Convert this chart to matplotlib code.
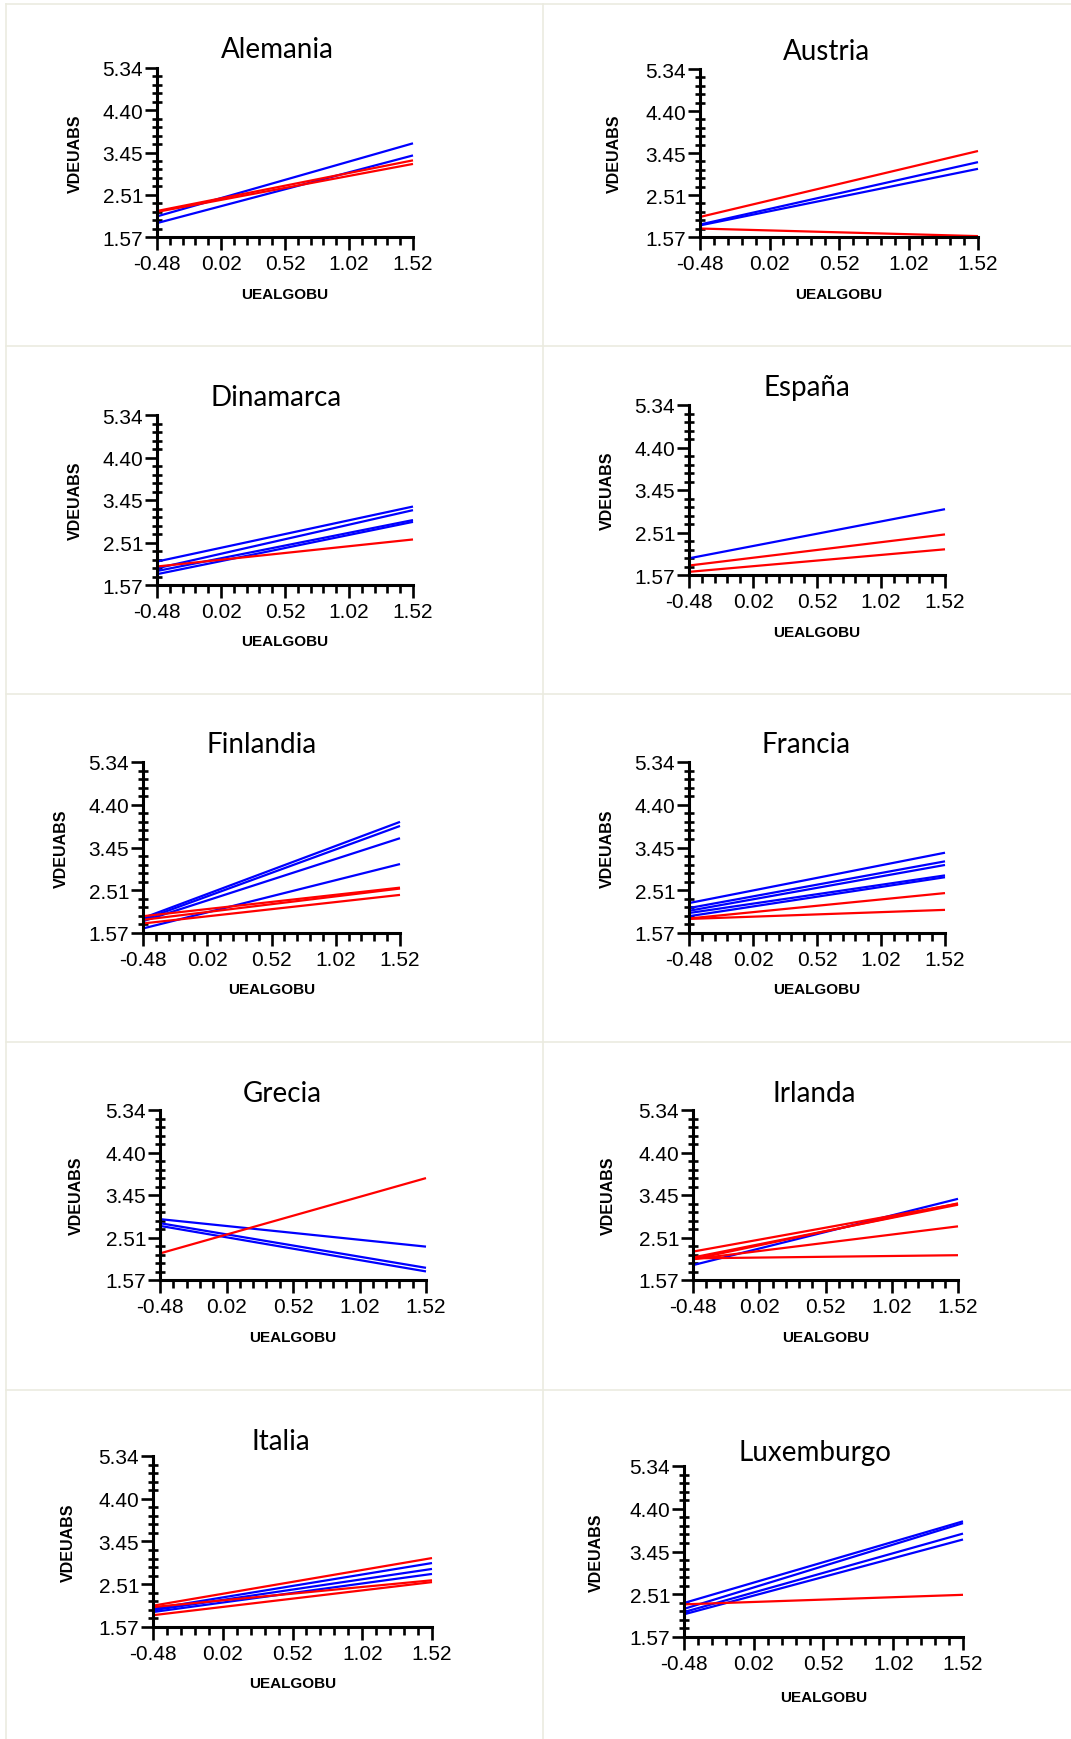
import matplotlib
matplotlib.use("Agg")
import matplotlib.pyplot as plt
from matplotlib.ticker import FixedLocator, AutoMinorLocator
from matplotlib.lines import Line2D
import numpy as np

# ---------------- data ----------------
countries = ["Alemania", "Austria", "Dinamarca", "España", "Finlandia",
             "Francia", "Grecia", "Irlanda", "Italia", "Luxemburgo"]

x_ends = [-0.48, 1.52]
xtick_vals = [-0.48, 0.02, 0.52, 1.02, 1.52]
xtick_labels = ["-0.48", "0.02", "0.52", "1.02", "1.52"]
ytick_labels = ["1.57", "2.51", "3.45", "4.40", "5.34"]
y_min, y_max = 1.57, 5.34

# each line: (value at x=-0.48, value at x=1.52)
alemania_blue = [(2.03, 3.66), (1.88, 3.39)]
alemania_red = [(2.15, 3.28), (2.13, 3.20)]
austria_blue = [(1.85, 3.25), (1.83, 3.10)]
austria_red = [(2.02, 3.50), (1.76, 1.59)]
dinamarca_blue = [(2.09, 3.31), (1.94, 3.23), (1.88, 3.01), (1.81, 2.97)]
dinamarca_red = [(1.98, 2.58)]
espana_blue = [(1.94, 3.03)]
espana_red = [(1.78, 2.47), (1.64, 2.14)]
finlandia_blue = [(1.90, 4.02), (1.86, 3.93), (1.83, 3.66), (1.67, 3.09)]
finlandia_red = [(1.94, 2.57), (1.86, 2.55), (1.78, 2.41)]
francia_blue = [(2.23, 3.34), (2.12, 3.15), (2.06, 3.07), (2.01, 2.84), (1.94, 2.80)]
francia_red = [(1.89, 2.45), (1.88, 2.08)]
grecia_blue = [(2.92, 2.31), (2.83, 1.84), (2.77, 1.76)]
grecia_red = [(2.16, 3.83)]
irlanda_blue = [(1.90, 3.37)]
irlanda_red = [(2.20, 3.26), (2.03, 3.27), (2.07, 3.24), (2.03, 2.76), (2.05, 2.12)]
italia_blue = [(1.97, 2.98), (1.94, 2.85), (1.90, 2.74)]
italia_red = [(2.04, 3.09), (2.01, 2.60), (1.83, 2.56)]
luxemburgo_blue = [(2.32, 4.12), (2.19, 4.08), (2.12, 3.85), (2.07, 3.72)]
luxemburgo_red = [(2.29, 2.50)]

blue_sets = [alemania_blue, austria_blue, dinamarca_blue, espana_blue, finlandia_blue,
             francia_blue, grecia_blue, irlanda_blue, italia_blue, luxemburgo_blue]
red_sets = [alemania_red, austria_red, dinamarca_red, espana_red, finlandia_red,
            francia_red, grecia_red, irlanda_red, italia_red, luxemburgo_red]

# ---------------- layout (pixels) ----------------
W, H = 1071, 1740
# axis_x, top, bottom, right
boxes = [(157, 69, 238, 413), (700, 70, 238, 978),
         (157, 416, 586, 413), (689, 406, 576, 945),
         (143, 763, 934, 400), (689, 763, 934, 945),
         (160, 1111, 1281, 426), (693, 1111, 1281, 958),
         (153, 1457, 1628, 432), (684, 1467, 1638, 963)]
titles_pos = [(277, 50), (826, 52), (276, 398), (807, 388), (262, 745),
              (806, 745), (282, 1094), (814, 1094), (281, 1442), (815, 1453)]
ylabel_x = [75, 614, 75, 607, 61, 607, 76, 608, 68, 596]
xlabel_off = [57, 57, 56, 57, 56, 56, 57, 57, 56, 60]

fig = plt.figure(figsize=(W / 100, H / 100), dpi=100)
fig.patch.set_facecolor("white")

grid_c = "#ebebe0"
for yy in [5, 347, 695, 1043, 1391]:
    fig.add_artist(Line2D([6 / W, 1.0], [1 - yy / H, 1 - yy / H], color=grid_c, lw=1.2))
for xx in [6, 543]:
    fig.add_artist(Line2D([xx / W, xx / W], [0, 1 - 5 / H], color=grid_c, lw=1.2))

tick_font = "Liberation Sans"
for i, name in enumerate(countries):
    ax_x, top, bot, right = boxes[i]
    wpx, hpx = right - ax_x, bot - top
    ax = fig.add_axes([ax_x / W, 1 - bot / H, wpx / W, hpx / H])
    for lo, hi in blue_sets[i]:
        ax.plot(x_ends, [lo, hi], color="#0000ff", lw=1.6, clip_on=False,
                solid_capstyle="butt")
    for lo, hi in red_sets[i]:
        ax.plot(x_ends, [lo, hi], color="#ff0000", lw=1.6, clip_on=False,
                solid_capstyle="butt")
    ax.set_xlim(x_ends[0], x_ends[1])
    ax.set_ylim(y_min, y_max)
    for s in ["top", "right"]:
        ax.spines[s].set_visible(False)
    for s in ["left", "bottom"]:
        ax.spines[s].set_linewidth(2.2)
        ax.spines[s].set_capstyle("projecting")
    ax.xaxis.set_major_locator(FixedLocator(xtick_vals))
    ax.set_xticklabels(xtick_labels)
    ax.yaxis.set_major_locator(FixedLocator(np.linspace(y_min, y_max, len(ytick_labels))))
    ax.set_yticklabels(ytick_labels)
    ax.xaxis.set_minor_locator(AutoMinorLocator(5))
    ax.yaxis.set_minor_locator(AutoMinorLocator(5))
    ax.tick_params(axis="x", which="major", direction="out", length=9.5, width=1.9,
                   pad=2.5, labelsize=15)
    ax.tick_params(axis="x", which="minor", direction="out", length=6, width=1.9)
    ax.tick_params(axis="y", which="major", direction="out", length=8.5, width=1.9,
                   pad=1.5, labelsize=15)
    ax.tick_params(axis="y", which="minor", direction="inout", length=6.5, width=1.9)
    for lab in ax.get_xticklabels() + ax.get_yticklabels():
        lab.set_fontfamily(tick_font)
    ax.set_xlabel("UEALGOBU", fontsize=11, fontweight="bold", family=tick_font, va="center")
    ax.xaxis.set_label_coords(0.5, -xlabel_off[i] / hpx)
    ax.set_ylabel("VDEUABS", fontsize=11.5, fontweight="bold", family=tick_font, va="center")
    ax.yaxis.set_label_coords((ylabel_x[i] - ax_x) / wpx, 0.5)
    ax.patch.set_alpha(0)
    tx, ty = titles_pos[i]
    fig.text(tx / W, 1 - ty / H, name, ha="center", va="center", fontsize=20,
             family="Lato", color="black")

fig.savefig("out.png", dpi=100, facecolor="white")
